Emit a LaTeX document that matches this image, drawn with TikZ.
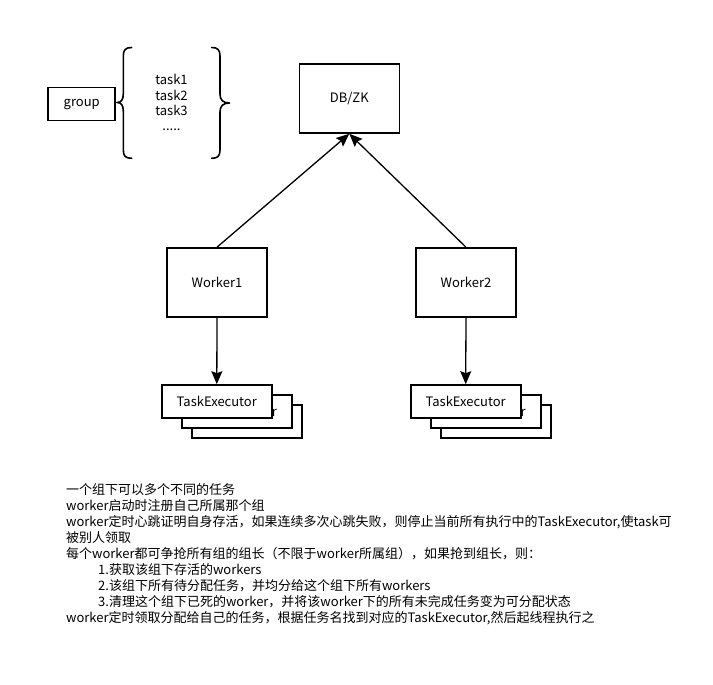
\documentclass[tikz,border=0pt]{standalone}
\usepackage{fontspec}
\setmainfont{Noto Sans CJK SC}
\usetikzlibrary{arrows.meta}
\begin{document}
\begin{tikzpicture}[x=1pt,y=-1pt,
  txt/.style={font=\fontsize{13}{16}\selectfont},
  box/.style={draw,line width=1.6pt,fill=white,inner sep=0pt,txt},
  bigbox/.style={box,minimum width=100pt,minimum height=69pt},
  execbox/.style={box,minimum width=110pt,minimum height=33pt},
  link/.style={line width=1.3pt,-{Stealth[length=13pt,width=11pt,inset=2pt]}},
  brace/.style={line width=1.6pt,line cap=round,line join=round}]
\useasboundingbox[fill=white] (0,0) rectangle (713,685);

% group and its task list
\node[box,minimum width=67pt,minimum height=33pt] (group) at (81.7,104.2) {group};
\draw[brace] (131.7,47.5) .. controls (125.5,47.5) and (123.3,50) .. (123.3,56)
  -- (123.3,94) .. controls (123.3,100) and (121,102.5) .. (117,102.5)
  .. controls (121,102.5) and (123.3,105) .. (123.3,111)
  -- (123.3,150) .. controls (123.3,156) and (125.5,158.3) .. (131.7,158.3);
\draw[brace] (211.7,47.5) .. controls (217.8,47.5) and (220,50) .. (220,56)
  -- (220,94) .. controls (220,100) and (223,103) .. (229.5,103)
  .. controls (223,103) and (220,106) .. (220,112)
  -- (220,150) .. controls (220,156) and (217.8,158.3) .. (211.7,158.3);
\node[txt,align=center,anchor=base,font=\fontsize{13}{15.5}\selectfont] (tasks) at (171.5,131) {task1\\task2\\task3\\.....};

% store and workers
\node[bigbox] (db) at (349.3,98.5) {DB/ZK};
\node[bigbox] (w1) at (217,282.5) {Worker1};
\node[bigbox] (w2) at (466,282.5) {Worker2};
\draw[link] (w1.north) -- (db.south);
\draw[link] (w2.north) -- (db.south);

% executor stacks: two copies behind each front box
\foreach \n/\cx in {a/216.8,b/465.7}{
  \node[execbox] (\n3) at (\cx+30,421.5) {};
  \node[execbox] (\n2) at (\cx+20,411.5) {TaskExecutor};
  \node[execbox] (\n1) at (\cx,401.5) {TaskExecutor};
}
\draw[link] (w1.south) -- (a1.north);
\draw[link] (w2.south) -- (b1.north);

% notes
\node[txt,align=left,anchor=base west,inner sep=0pt] (notes) at (66,622) {%
一个组下可以多个不同的任务\\
worker启动时注册自己所属那个组\\
worker定时心跳证明自身存活，如果连续多次心跳失败，则停止当前所有执行中的TaskExecutor,使task可\\
被别人领取\\
每个worker都可争抢所有组的组长（不限于worker所属组），如果抢到组长，则：\\
\hspace*{32pt}1.获取该组下存活的workers\\
\hspace*{32pt}2.该组下所有待分配任务，并均分给这个组下所有workers\\
\hspace*{32pt}3.清理这个组下已死的worker，并将该worker下的所有未完成任务变为可分配状态\\
worker定时领取分配给自己的任务，根据任务名找到对应的TaskExecutor,然后起线程执行之};
\end{tikzpicture}
\end{document}
